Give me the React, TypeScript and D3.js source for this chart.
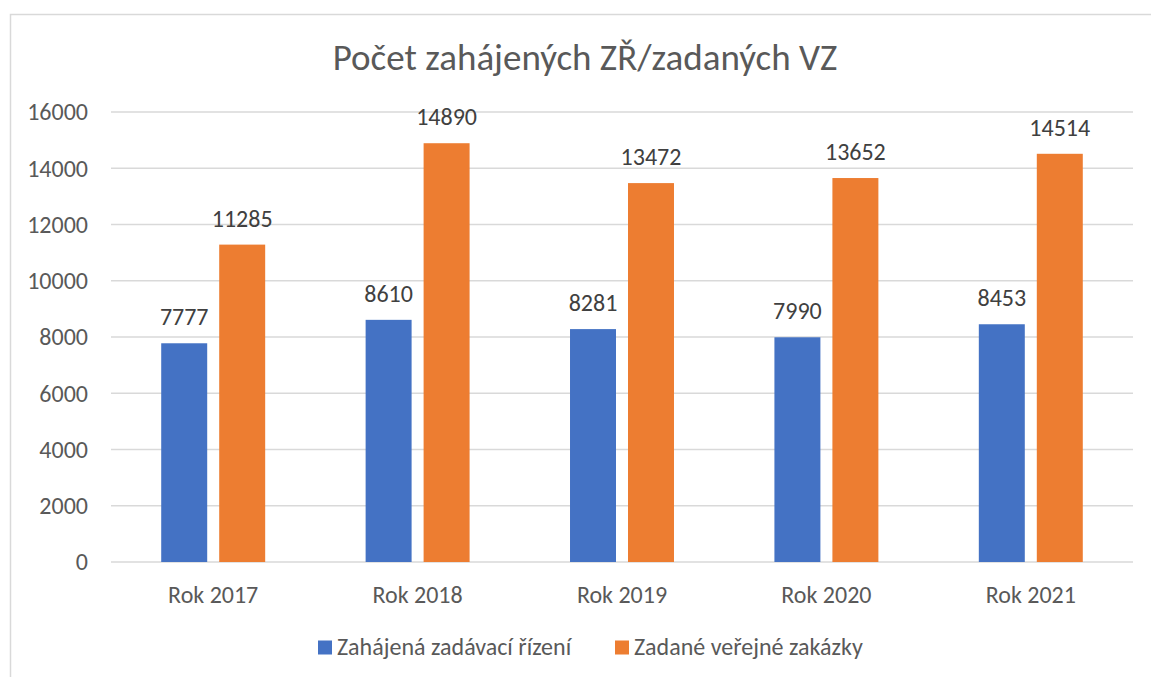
import * as d3 from 'd3';

const categories = ['Rok 2017', 'Rok 2018', 'Rok 2019', 'Rok 2020', 'Rok 2021'];
const seriesNames = ['Zahájená zadávací řízení', 'Zadané veřejné zakázky'];
const started = [7777, 8610, 8281, 7990, 8453];
const awarded = [11285, 14890, 13472, 13652, 14514];
const yTicks = [0, 2000, 4000, 6000, 8000, 10000, 12000, 14000, 16000];

const colors = ['#4472C4', '#ED7D31'];
const font = 'Carlito, Calibri, Lato, sans-serif';

const W = 1151;
const H = 677;
const plot = { left: 111, right: 1133, top: 112, bottom: 562 };

const App = () => {
  const x0 = d3.scaleBand<string>().domain(categories).range([plot.left, plot.right]).padding(0);
  const x1 = d3.scaleBand<string>()
    .domain(seriesNames)
    .range([0, x0.bandwidth()])
    .paddingInner(0.207)
    .paddingOuter(0.866);
  const y = d3.scaleLinear().domain([0, 16000]).range([plot.bottom, plot.top]);

  const values = [started, awarded];
  const legendX = [318, 615];

  return (
    <svg width={W} height={H} style={{ position: 'absolute', left: 0, top: 0, background: '#fff' }} fontFamily={font}>
      <rect x={10.5} y={14.5} width={W + 10} height={H + 10} fill="#fff" stroke="#D9D9D9" strokeWidth={1.5} />

      <text x={585} y={70} textAnchor="middle" fontSize={37} fill="#595959">
        Počet zahájených ZŘ/zadaných VZ
      </text>

      {yTicks.map(t => (
        <g key={t}>
          <line x1={plot.left} x2={plot.right} y1={y(t)} y2={y(t)} stroke="#D9D9D9" strokeWidth={1.5} />
          <text x={88} y={y(t)} dy="0.35em" textAnchor="end" fontSize={24} fill="#595959">{t}</text>
        </g>
      ))}

      {categories.map((c, ci) => (
        <g key={c} transform={`translate(${x0(c)},0)`}>
          {seriesNames.map((s, si) => {
            const v = values[si][ci];
            const bx = x1(s) as number;
            return (
              <g key={s}>
                <rect x={bx} y={y(v)} width={x1.bandwidth()} height={y(0) - y(v)} fill={colors[si]} />
                <text x={bx + x1.bandwidth() / 2} y={y(v) - 18} textAnchor="middle" fontSize={24} fill="#404040">{v}</text>
              </g>
            );
          })}
          <text x={x0.bandwidth() / 2} y={603} textAnchor="middle" fontSize={24} fill="#595959">{c}</text>
        </g>
      ))}

      {seriesNames.map((s, si) => (
        <g key={s} transform={`translate(${legendX[si]},640.5)`}>
          <rect width={14} height={14} fill={colors[si]} />
          <text x={19} y={14} fontSize={24} fill="#595959">{s}</text>
        </g>
      ))}
    </svg>
  );
};

export default App;
